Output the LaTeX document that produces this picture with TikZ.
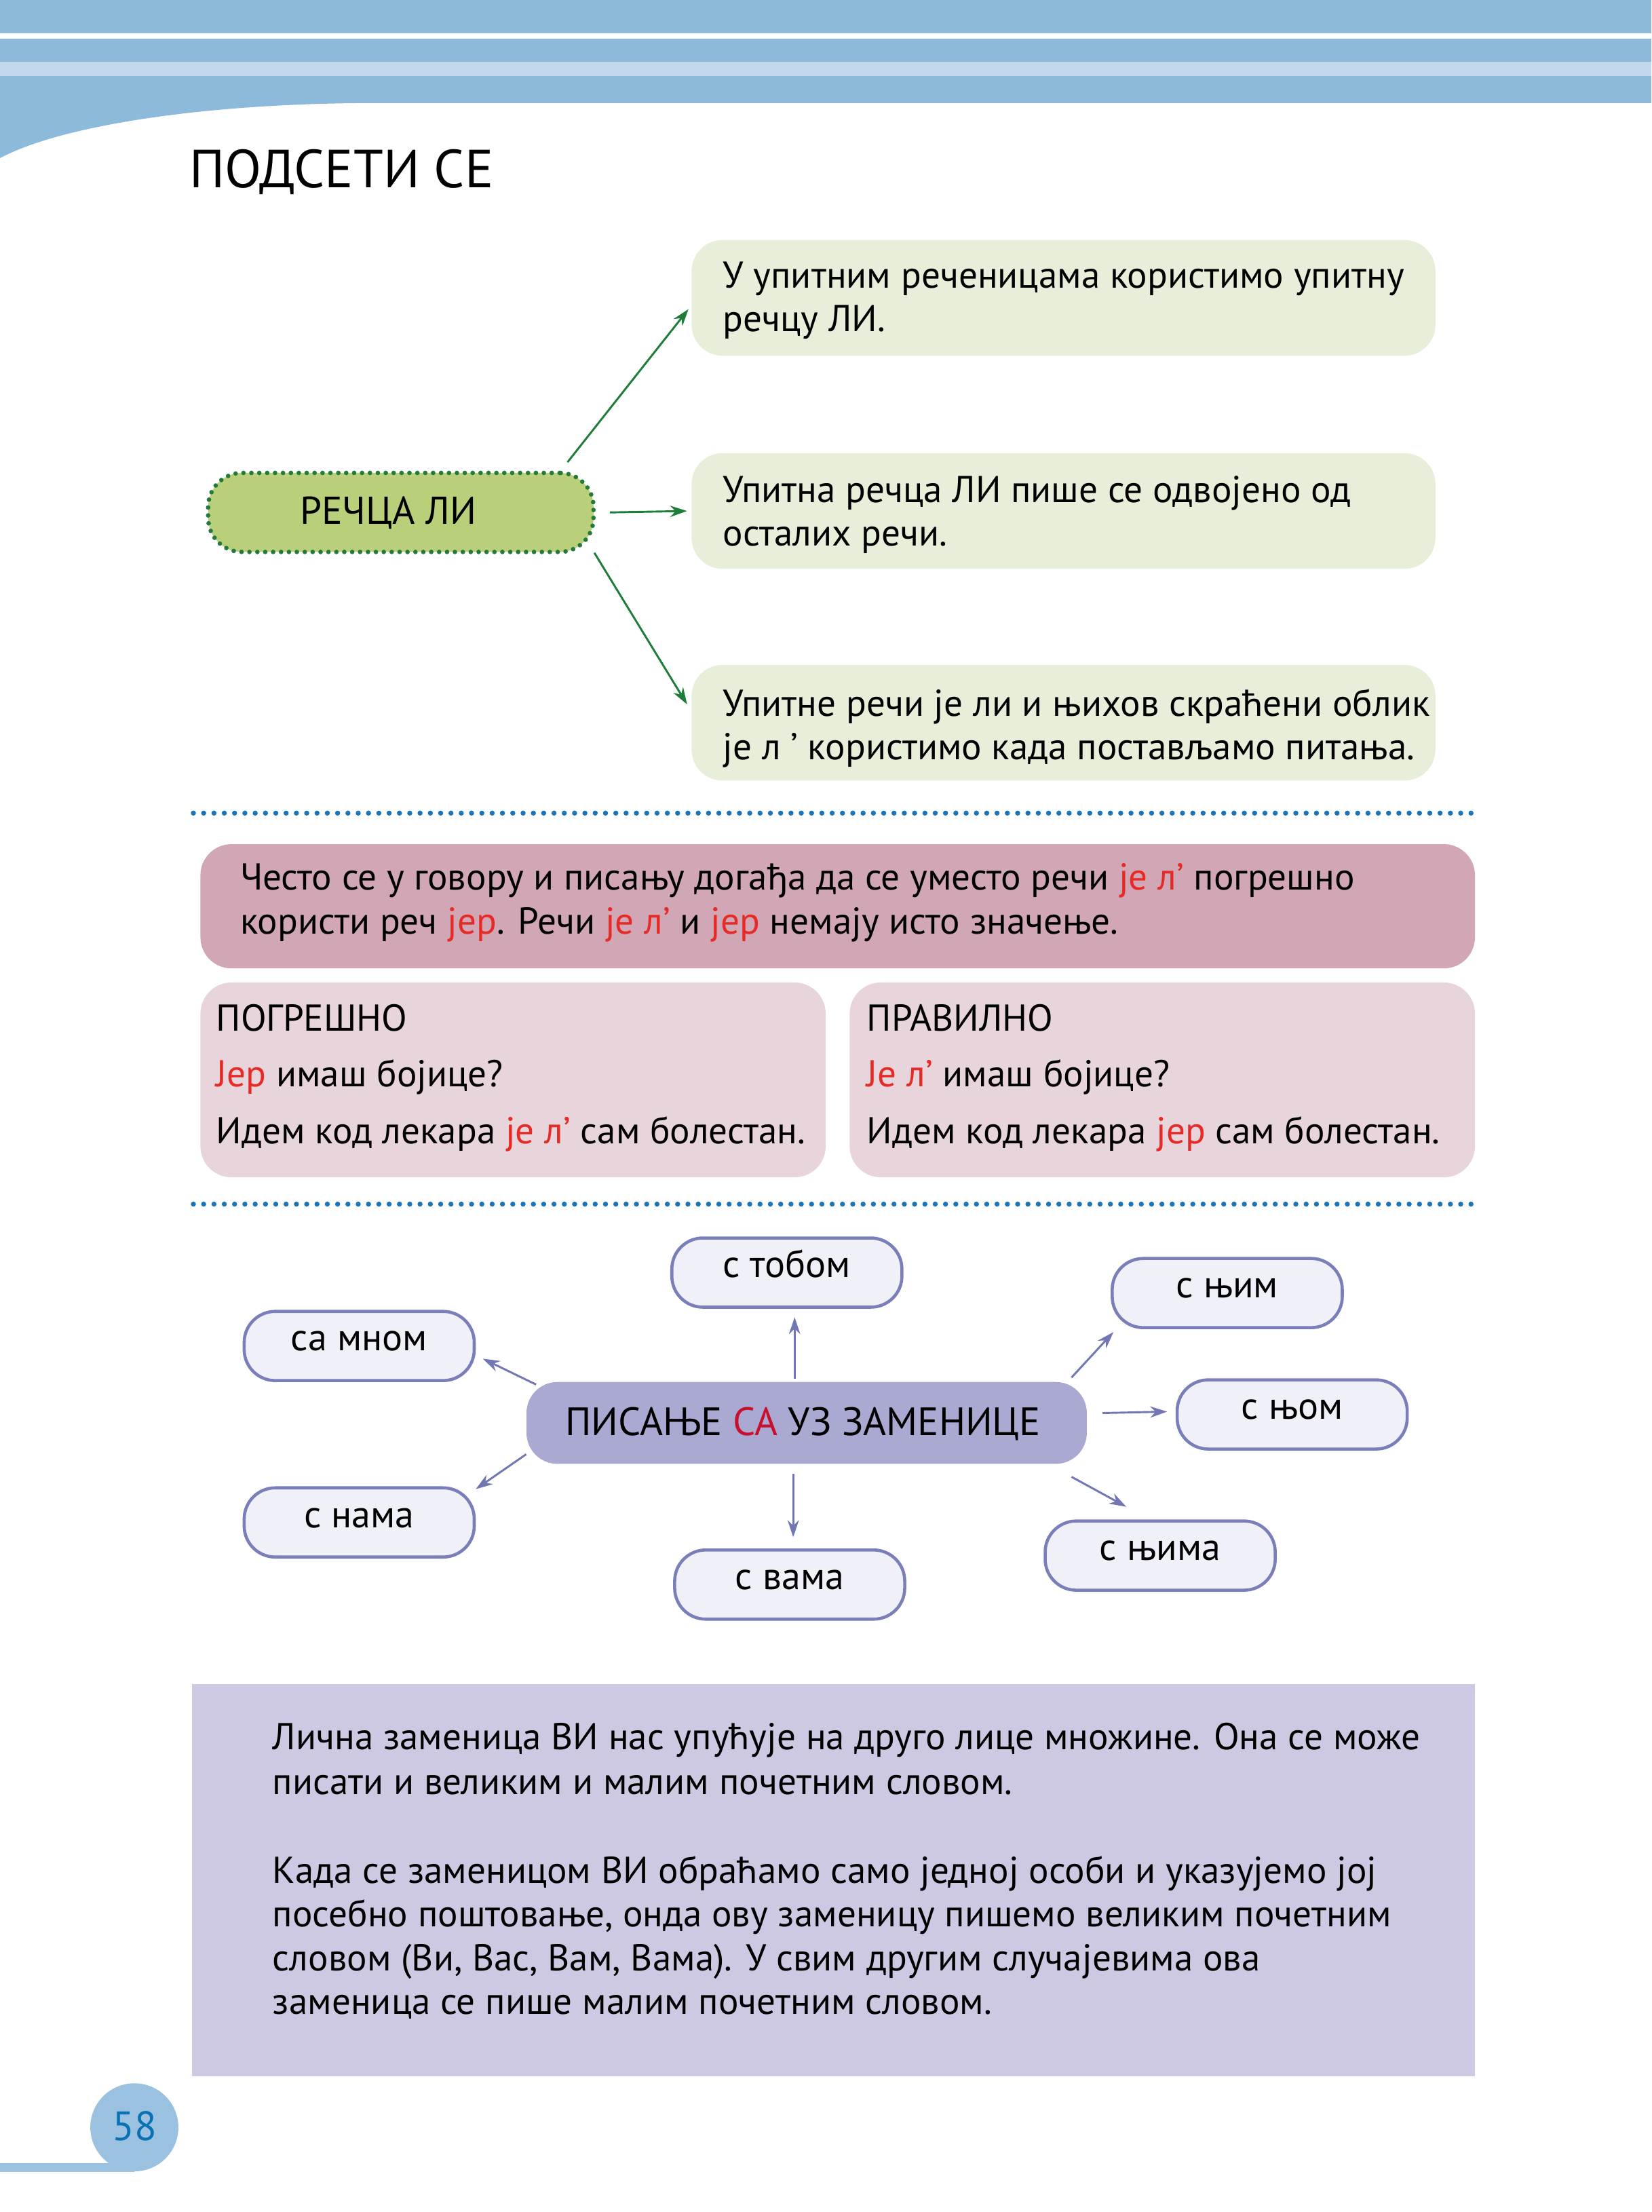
\documentclass[tikz,border=0pt]{standalone}
\usepackage{fontspec}
\setmainfont{PT Sans}
\usetikzlibrary{arrows.meta}
\definecolor{bandblue}{HTML}{8DBADB}
\definecolor{bandlight}{HTML}{C2D8EC}
\definecolor{gboxfill}{HTML}{E7EED9}
\definecolor{gcenter}{HTML}{B9CF79}
\definecolor{gdots}{HTML}{237A3B}
\definecolor{garrowc}{HTML}{1F7D3A}
\definecolor{sepblue}{HTML}{1A75BB}
\definecolor{pinkdark}{HTML}{D1A6B5}
\definecolor{pinklight}{HTML}{E8D5DC}
\definecolor{redtxt}{HTML}{E62A26}
\definecolor{redca}{HTML}{C8102E}
\definecolor{purplec}{HTML}{A9A9D1}
\definecolor{smallfill}{HTML}{F0F1F8}
\definecolor{smallborder}{HTML}{7A7EB9}
\definecolor{parrowc}{HTML}{7276B4}
\definecolor{lavbox}{HTML}{CDC9E3}
\definecolor{pagecirc}{HTML}{9AC2E0}
\definecolor{pagenum}{HTML}{0A72B3}
\newcommand\txtsize{\fontsize{26.5}{31}\selectfont}
\newcommand\rd[1]{\textcolor{redtxt}{#1}}
\begin{document}
\begin{tikzpicture}[x=1pt,y=-1pt,
  txt/.style={anchor=base west, inner sep=0pt, font=\txtsize},
  greenbox/.style={rectangle, rounded corners=22pt, fill=gboxfill, minimum width=527pt, minimum height=82pt, inner sep=0pt},
  gcent/.style={rectangle, rounded corners=24pt, fill=gcenter, draw=gdots, line width=3.2pt, dash pattern=on 0pt off 5.6pt, line cap=round, minimum width=273pt, minimum height=56pt, inner sep=0pt},
  garrow/.style={draw=garrowc, line width=1.4pt, -{Stealth[length=12pt,width=8pt]}},
  sepline/.style={draw=sepblue, line width=3.6pt, dash pattern=on 0pt off 7.3pt, line cap=round},
  pinkbox/.style={rectangle, rounded corners=22pt, fill=pinkdark, minimum width=903pt, minimum height=88pt, inner sep=0pt},
  pinkbox2/.style={rectangle, rounded corners=22pt, fill=pinklight, minimum width=443pt, minimum height=138pt, inner sep=0pt},
  cnode/.style={rectangle, rounded corners=22pt, fill=purplec, minimum width=397pt, minimum height=58pt, inner sep=0pt},
  snode/.style={rectangle, rounded corners=22pt, fill=smallfill, draw=smallborder, line width=2.2pt, minimum width=163pt, minimum height=49pt, inner sep=0pt, text height=14pt, text depth=7pt, font=\fontsize{27}{31}\selectfont},
  parrow/.style={draw=parrowc, line width=1.4pt, -{Stealth[length=12pt,width=8pt]}},
]
\useasboundingbox (0,0) rectangle (1170,1567);
% header band
\fill[bandblue] (0,0) rectangle (1170,23.5);
\fill[bandblue] (0,27.4) rectangle (1170,73);
\fill[bandlight] (0,43.8) rectangle (1170,53.8);
\fill[bandblue] (0,72) -- (265,72) -- (265,73) .. controls (150,73) and (45,88) .. (0,112) -- cycle;
\node[anchor=base west, inner sep=0pt, font=\fontsize{38}{40}\selectfont] (title) at (134,133) {ПОДСЕТИ СЕ};

% green section
\node[greenbox] (b1) at (753.5,211) {};
\node[greenbox] (b2) at (753.5,362) {};
\node[greenbox] (b3) at (753.5,512) {};
\node[gcent] (rl) at (284,363) {};
\node[anchor=center, inner sep=0pt, font=\fontsize{27.5}{31}\selectfont] (rlt) at (275,363.5) {РЕЧЦА ЛИ};
\node[txt] (t1a) at (512,204) {У упитним реченицама користимо упитну};
\node[txt] (t1b) at (512,235) {речцу ЛИ.};
\node[txt] (t2a) at (512,356) {Упитна речца ЛИ пише се одвојено од};
\node[txt] (t2b) at (512,386.5) {осталих речи.};
\node[txt] (t3a) at (512,507.5) {Упитне речи је ли и њихов скраћени облик};
\node[txt] (t3b) at (512,538) {је л ’ користимо када постављамо питања.};
\draw[garrow] ([shift={(-20,-6)}]rl.north east) -- ([shift={(-2,8)}]b1.west);
\draw[garrow] ([shift={(10,0)}]rl.east) -- ([shift={(-3,0)}]b2.west);
\draw[garrow] ([shift={(-1,-1)}]rl.south east) -- ([shift={(-3,-13)}]b3.west);

% separator
\draw[sepline] (137,576) -- (1046,576);

% pink section
\node[pinkbox] (pk) at (593.5,642) {};
\node[txt] (p1) at (170,630.5) {Често се у говору и писању догађа да се уместо речи \rd{је л’} погрешно};
\node[txt] (p2) at (170,661.5) {користи реч \rd{јер}. Речи \rd{је л’} и \rd{јер} немају исто значење.};
\node[pinkbox2] (lb) at (363.5,765) {};
\node[pinkbox2] (rb) at (823.5,765) {};
\node[txt] (l1) at (153,730.5) {ПОГРЕШНО};
\node[txt] (l2) at (153,770) {\rd{Јер} имаш бојице?};
\node[txt] (l3) at (153,810) {Идем код лекара \rd{је л’} сам болестан.};
\node[txt] (r1) at (614,730.5) {ПРАВИЛНО};
\node[txt] (r2) at (614,770) {\rd{Је л’} имаш бојице?};
\node[txt] (r3) at (614,810) {Идем код лекара \rd{јер} сам болестан.};

\draw[sepline] (137,853) -- (1046,853);

% pronoun section
\node[cnode] (c) at (571.5,1008) {};
\node[anchor=center, inner sep=0pt, font=\fontsize{28}{31}\selectfont] (ct) at (569,1008.5) {ПИСАЊЕ \textcolor{redca}{СА} УЗ ЗАМЕНИЦЕ};
\node[snode] (m1) at (254.5,953.5) {са мном};
\node[snode] (m2) at (557.5,901.5) {с тобом};
\node[snode] (m3) at (869.5,916) {с њим};
\node[snode] (m4) at (915.5,1002) {с њом};
\node[snode] (m5) at (254.5,1078.5) {с нама};
\node[snode] (m6) at (559.5,1122.5) {с вама};
\node[snode] (m7) at (822,1102) {с њима};
\draw[parrow] ([shift={(7,2)}]c.north west) -- ([shift={(5,9)}]m1.east);
\draw[parrow] ([shift={(-8.5,-2)}]c.north) -- ([shift={(5.5,6)}]m2.south);
\draw[parrow] ([shift={(-11,-3)}]c.north east) -- ([shift={(2,2)}]m3.south west);
\draw[parrow] ([shift={(11,-7)}]c.east) -- ([shift={(-6,-2)}]m4.west);
\draw[parrow] ([shift={(0,-7)}]c.south west) -- ([shift={(0,2)}]m5.north east);
\draw[parrow] ([shift={(-9.5,7)}]c.south) -- ([shift={(2.5,-8)}]m6.north);
\draw[parrow] ([shift={(-11,9)}]c.south east) -- ([shift={(-24,-9)}]m7.north);

% bottom box
\fill[lavbox] (136,1193) rectangle (1045,1471);
\node[txt] (n1) at (193,1239.5) {Лична заменица ВИ нас упућује на друго лице множине. Она се може};
\node[txt] (n2) at (193,1271) {писати и великим и малим почетним словом.};
\node[txt] (n3) at (193,1334) {Када се заменицом ВИ обраћамо само једној особи и указујемо јој};
\node[txt] (n4) at (193,1365) {посебно поштовање, онда ову заменицу пишемо великим почетним};
\node[txt] (n5) at (193,1396) {словом (Ви, Вас, Вам, Вама). У свим другим случајевима ова};
\node[txt] (n6) at (193,1427) {заменица се пише малим почетним словом.};

% page number
\fill[pagecirc] (0,1532.5) rectangle (95,1538.4);
\fill[pagecirc] (95.2,1507) circle (31.2);
\node[font=\fontsize{29}{30}\selectfont, text=pagenum, inner sep=0pt] (pg) at (95.5,1506) {58};
\end{tikzpicture}
\end{document}
